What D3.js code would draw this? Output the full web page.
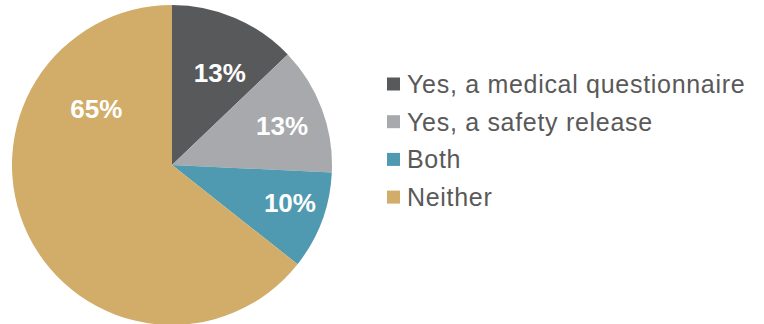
<!DOCTYPE html>
<html>
<head>
<meta charset="utf-8">
<script src="https://cdn.jsdelivr.net/npm/d3@7"></script>
<style>
  html, body { margin: 0; padding: 0; background: #ffffff; }
  svg { display: block; }
</style>
</head>
<body>
<svg id="chart" width="764" height="324"></svg>
<script>
// Survey answers and their shares (percent)
const categories = ["Yes, a medical questionnaire", "Yes, a safety release", "Both", "Neither"];
const values = [13, 13, 10, 65];
const colors = ["#58595b", "#a7a9ac", "#4f9ab1", "#d1ad69"];

// Label placement inside each slice: [fraction along the slice's angle, fraction of radius]
const labelPlacement = [[0.59, 0.65], [0.52, 0.73], [0.43, 0.775], [0.77, 0.59]];

const width = 764, height = 324;
const cx = 172, cy = 165, radius = 160;

const svg = d3.select("#chart");
const g = svg.append("g").attr("transform", `translate(${cx},${cy})`);

const pie = d3.pie().sort(null).value(d => d.value);
const arcs = pie(categories.map((c, i) => ({ name: c, value: values[i], color: colors[i], idx: i })));

const arc = d3.arc().innerRadius(0).outerRadius(radius);

g.selectAll("path.slice")
  .data(arcs)
  .join("path")
  .attr("class", "slice")
  .attr("d", arc)
  .attr("fill", d => d.data.color);

function labelPos(d) {
  const [t, rf] = labelPlacement[d.data.idx];
  const a = d.startAngle + (d.endAngle - d.startAngle) * t;
  const r = radius * rf;
  return [Math.sin(a) * r, -Math.cos(a) * r];
}

g.selectAll("text.label")
  .data(arcs)
  .join("text")
  .attr("class", "label")
  .attr("x", d => labelPos(d)[0])
  .attr("y", d => labelPos(d)[1])
  .attr("text-anchor", "middle")
  .attr("dominant-baseline", "central")
  .attr("font-family", "Liberation Sans, Arial, sans-serif")
  .attr("font-weight", "bold")
  .attr("font-size", 26)
  .attr("fill", "#ffffff")
  .text(d => Math.round(d.data.value) + "%");

// Legend
const legend = svg.append("g").attr("transform", "translate(387,84)");
const rows = legend.selectAll("g")
  .data(categories)
  .join("g")
  .attr("transform", (d, i) => `translate(0,${i * 37.7})`);

rows.append("rect")
  .attr("x", 0).attr("y", -6.5)
  .attr("width", 13).attr("height", 13)
  .attr("fill", (d, i) => colors[i]);

rows.append("text")
  .attr("x", 20)
  .attr("y", 0)
  .attr("dominant-baseline", "central")
  .attr("font-family", "Liberation Sans, Arial, sans-serif")
  .attr("font-size", 25)
  .attr("letter-spacing", 0.7)
  .attr("fill", "#595959")
  .text(d => d);
</script>
</body>
</html>
